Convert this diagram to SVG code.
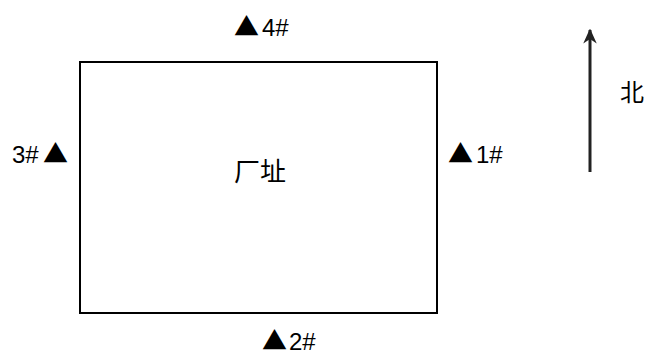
<svg xmlns="http://www.w3.org/2000/svg" width="647" height="358" viewBox="0 0 647 358">
<defs>
<style>
.lbl{font-family:"Liberation Sans","Noto Sans CJK SC",sans-serif;font-size:24px;fill:#000}
.tri{font-family:"Noto Sans CJK SC",sans-serif;font-size:25px;fill:#000}
.cjk{font-family:"Noto Sans CJK SC",sans-serif;fill:#000}
</style>
<marker id="ah" viewBox="0 0 10 10" refX="9" refY="5" markerWidth="5" markerHeight="5" orient="auto" markerUnits="strokeWidth">
<path d="M0,0.5 L10,5 L0,9.5 L3,5 Z" fill="#222"/>
</marker>
</defs>
<rect width="647" height="358" fill="#fff"/>
<g id="site">
<rect x="80" y="62" width="357" height="251" fill="none" stroke="#000" stroke-width="2"/>
<text class="cjk" x="260" y="181" font-size="26" text-anchor="middle">厂址</text>
</g>
<g id="p4"><text x="234" y="36"><tspan class="tri" x="234">▲</tspan><tspan class="lbl" x="262">4#</tspan></text></g>
<g id="p3"><text x="12" y="163"><tspan class="lbl" x="12">3#</tspan><tspan class="tri" x="43">▲</tspan></text></g>
<g id="p1"><text x="448" y="163"><tspan class="tri" x="448">▲</tspan><tspan class="lbl" x="476">1#</tspan></text></g>
<g id="p2"><text x="262" y="350"><tspan class="tri" x="262">▲</tspan><tspan class="lbl" x="289">2#</tspan></text></g>
<g id="connectors">
<line x1="590" y1="172" x2="590" y2="30" stroke="#222" stroke-width="3" marker-end="url(#ah)"/>
</g>
<g id="north"><text class="cjk" x="620" y="101" font-size="24">北</text></g>
</svg>
